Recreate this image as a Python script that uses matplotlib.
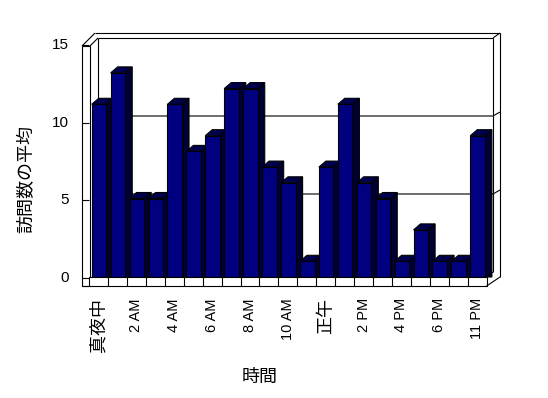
import matplotlib
matplotlib.use("Agg")
import matplotlib.pyplot as plt
from matplotlib.patches import Rectangle, Polygon

# ---------------- data ----------------
categories = (["真夜中"] + [f"{h} AM" for h in range(1, 12)] + ["正午"]
              + [f"{h} PM" for h in range(1, 8)] + ["11 PM"])
values = [11, 13, 5, 5, 11, 8, 9, 12, 12, 7, 6, 1, 7, 11, 6, 5, 1, 3, 1, 1, 9]
y_ticks = [0, 5, 10, 15]
x_title = "時間"
y_title = "訪問数の平均"

# ---------------- layout helpers (pixel -> data) ----------------
W, H = 548, 398
PX0, PXU = 89.07, 18.93      # left floor edge, px per category
PY0, PYU = 277.0, 15.7       # bar base, px per value unit
LW = 0.8


def X(px):
    return (px - PX0) / PXU


def Y(py):
    return (PY0 - py) / PYU


fig = plt.figure(figsize=(W / 100, H / 100), dpi=100)
ax = fig.add_axes([0, 0, 1, 1])
ax.set_xlim(X(0), X(W))
ax.set_ylim(Y(H), Y(0))
ax.axis("off")

lk = dict(color="black", lw=LW, solid_capstyle="butt")
n = len(values)

# back wall gridlines (back scale)
def back_y(v):
    return Y(272 - 15.6 * v)

for v in y_ticks[1:3]:
    ax.plot([X(98), X(493), X(500)], [back_y(v), back_y(v), Y(272 - 15.6 * v - 4)], zorder=1, **lk)

# back wall frame
ax.plot([X(98), X(493)], [Y(38), Y(38)], zorder=1, **lk)
ax.plot([X(95), X(500)], [Y(33), Y(33)], zorder=1, **lk)
ax.plot([X(493), X(500)], [Y(38), Y(33)], zorder=1, **lk)
ax.plot([X(493), X(493)], [Y(38), Y(272)], zorder=1, **lk)
ax.plot([X(500), X(500)], [Y(33), Y(277)], zorder=1, **lk)
ax.plot([X(98), X(98)], [Y(38), Y(277)], zorder=1, **lk)
# left wall
ax.plot([X(82), X(95)], [Y(46), Y(33)], zorder=1, **lk)
ax.plot([X(90), X(98)], [Y(46), Y(38)], zorder=1, **lk)
ax.add_patch(Rectangle((X(82), Y(286)), X(90) - X(82), Y(46) - Y(286),
                       facecolor="white", edgecolor="black", lw=LW, zorder=1))

# bars with faux depth
dx = 7 / PXU
dy = 6 / PYU
x0off, wbar = 0.14, 0.77
for i, v in enumerate(values):
    xl = i + x0off
    xr = xl + wbar
    z = 3 + i * 0.01
    side = Polygon([(xr, 0), (xr + dx, 0), (xr + dx, v + dy), (xr, v)],
                   closed=True, facecolor="#000033", edgecolor="black", lw=LW, zorder=z)
    top = Polygon([(xl, v), (xl + dx, v + dy), (xr + dx, v + dy), (xr, v)],
                  closed=True, facecolor="#00004d", edgecolor="black", lw=LW, zorder=z)
    ax.add_patch(side)
    ax.add_patch(top)
    ax.bar(xl, v, width=wbar, align="edge", color="#000080",
           edgecolor="black", linewidth=LW, zorder=z + 0.001)

# floor band
ax.add_patch(Rectangle((0, Y(286)), n, Y(277) - Y(286), facecolor="white",
                       edgecolor="black", lw=LW, zorder=5))
for i in range(1, n):
    ax.plot([i, i], [Y(286), Y(277)], zorder=5, **lk)
ax.plot([X(82), 0], [Y(286), Y(286)], zorder=5, **lk)
ax.plot([n, X(500)], [Y(286), Y(277)], zorder=5, **lk)
ax.plot([n, X(493)], [Y(277), Y(272)], zorder=5, **lk)

# y ticks and labels (front scale)
def front_y(v):
    return Y(278 - 15.53 * v)

for v in y_ticks:
    ax.plot([X(82), X(89)], [front_y(v), front_y(v)], zorder=6, **lk)
    ax.text(X(69), front_y(v), str(v), ha="right", va="center",
            fontsize=11, family=["Liberation Sans", "DejaVu Sans"])

# category labels (every second one)
for i, lab in enumerate(categories):
    if i % 2:
        continue
    is_ascii = all(ord(c) < 128 for c in lab)
    ax.text(i + 0.5, Y(298), lab, rotation=90, ha="center", va="top",
            fontsize=10.5 if is_ascii else 13,
            family=["Liberation Sans", "Noto Sans CJK JP"] if is_ascii
            else ["Noto Sans CJK JP", "DejaVu Sans"])

# axis titles
ax.text(X(259.5), Y(377), x_title, ha="center", va="center", fontsize=13,
        family=["Noto Sans CJK JP", "DejaVu Sans"])
ax.text(X(26), Y(179), y_title, ha="center", va="center", rotation=90,
        fontsize=13, family=["Noto Sans CJK JP", "DejaVu Sans"])

fig.savefig("out.png", dpi=100, facecolor="white")
